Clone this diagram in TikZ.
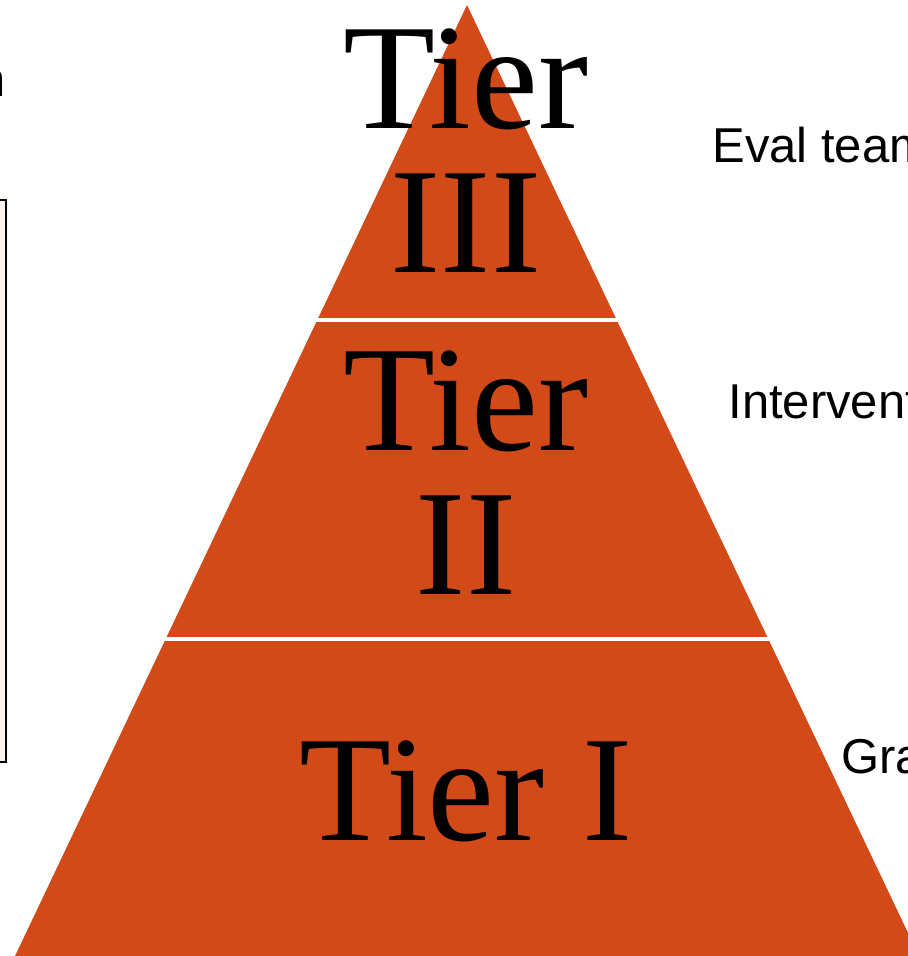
\documentclass[tikz,border=0pt]{standalone}
\usepackage{fontspec}
\setmainfont{Liberation Serif}
\newfontfamily\arialfont{Liberation Sans}
\definecolor{tierorange}{RGB}{210,74,24}
\definecolor{notepink}{RGB}{253,243,237}

\tikzset{every picture/.style={line width=0.75pt}}
\tikzset{
  tierlabel/.style={inner sep=0pt, anchor=base, align=center, font=\fontsize{113}{108}\selectfont},
  sidelabel/.style={inner sep=0pt, anchor=base west, font=\arialfont\fontsize{36.7}{44}\selectfont},
  tiergap/.style={draw=white, line width=3pt}
}

\begin{document}
\begin{tikzpicture}[x=0.75pt,y=0.75pt,yscale=-1,xscale=1]
\useasboundingbox (0,0) rectangle (907,956);

%Shape: Rectangle [id:notebox] 
\draw  [fill=notepink ,line width=1.5pt] (-20,200) -- (6,200) -- (6,762) -- (-20,762) -- cycle ;
%Shape: Triangle [id:pyramid] 
\draw  [draw=none ,fill=tierorange ] (467,5) -- (919,956) -- (15,956) -- cycle ;
%Straight Lines [id:gapthree] 
\draw [tiergap]   (313,320) -- (621,320) ;
%Straight Lines [id:gaptwo] 
\draw [tiergap]   (163,639) -- (771,639) ;

% Text Node
\node [tierlabel] (tierthree) at (466,272) {Tier\\III};
% Text Node
\node [tierlabel] (tiertwo) at (466,594) {Tier\\II};
% Text Node
\node [tierlabel] (tierone) at (466,840) {Tier I};
% Text Node
\node [sidelabel] (evalteam) at (712,162) {Eval team};
% Text Node
\node [sidelabel] (intervent) at (728,418) {Intervent};
% Text Node
\node [sidelabel] (grade) at (841,773) {Gra};
% Text Node
\node [sidelabel, anchor=base east] (leftword) at (6,97) {n};

\end{tikzpicture}
\end{document}
